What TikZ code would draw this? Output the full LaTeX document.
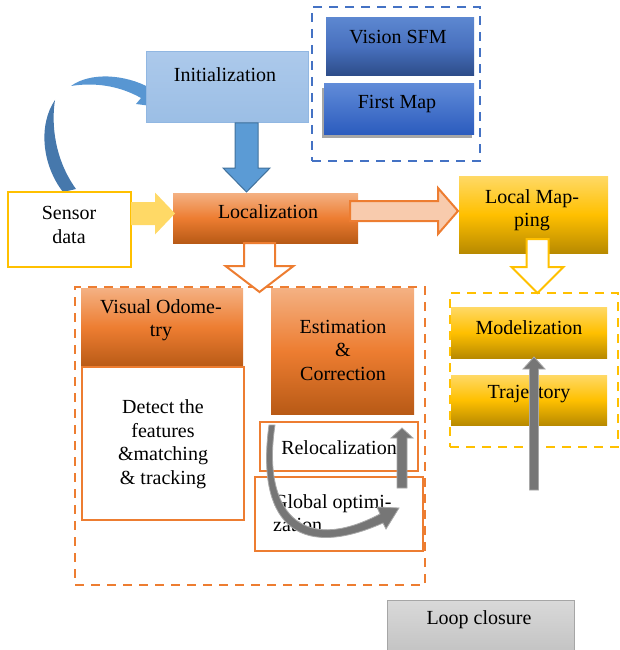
\documentclass[tikz,border=0pt]{standalone}
\usepackage{fontspec}
\setmainfont{Liberation Serif}
\usetikzlibrary{calc,shadows}
\definecolor{initT}{RGB}{172,201,235}
\definecolor{initB}{RGB}{155,190,229}
\definecolor{initD}{RGB}{145,183,226}
\definecolor{sfmT}{RGB}{92,135,208}
\definecolor{sfmM}{RGB}{72,112,190}
\definecolor{sfmB}{RGB}{44,76,136}
\definecolor{fmT}{RGB}{96,139,216}
\definecolor{fmB}{RGB}{44,92,190}
\definecolor{dblue}{RGB}{68,114,196}
\definecolor{ablue}{RGB}{91,155,213}
\definecolor{ablueD}{RGB}{65,113,156}
\definecolor{cblue}{RGB}{88,150,210}
\definecolor{cblueD}{RGB}{70,120,172}
\definecolor{orT}{RGB}{244,177,131}
\definecolor{orM}{RGB}{237,125,49}
\definecolor{orB}{RGB}{184,90,22}
\definecolor{orL}{RGB}{237,125,49}
\definecolor{pink}{RGB}{248,203,173}
\definecolor{goT}{RGB}{255,217,102}
\definecolor{goM}{RGB}{255,192,0}
\definecolor{goB}{RGB}{184,138,0}
\definecolor{yel}{RGB}{255,192,0}
\definecolor{yelA}{RGB}{255,217,102}
\definecolor{grT}{RGB}{217,217,217}
\definecolor{grB}{RGB}{192,192,192}
\definecolor{grD}{RGB}{166,166,166}
\definecolor{grA}{RGB}{118,118,118}
\definecolor{grAD}{RGB}{168,168,168}
\newcommand{\blockarr}[6]{%
  \coordinate (ba-h) at ($(#2)!#5!(#1)$);
  \path[#6] ($(#1)!#3!90:(#2)$) -- ($(ba-h)!#3!90:(#2)$) -- ($(ba-h)!#4!90:(#2)$)
    -- (#2) -- ($(ba-h)!#4!-90:(#2)$) -- ($(ba-h)!#3!-90:(#2)$) -- ($(#1)!#3!-90:(#2)$) -- cycle;}
\tikzset{
  box/.style={inner sep=0pt, outer sep=0pt, anchor=north west},
  txt/.style={font=\fontsize{20}{23.5}\selectfont, align=center, inner sep=0pt, text=black},
  orgrad/.style={top color=orT, bottom color=orB, middle color=orM},
  gograd/.style={top color=goT, bottom color=goB, middle color=goM},
  dashbox/.style={box, draw, line width=2.5pt, dash pattern=on 9pt off 7pt},
  grayarr/.style={fill=grA, draw=grAD, line width=0.8pt},
}
\begin{document}
\begin{tikzpicture}[x=1pt,y=-1pt]
\useasboundingbox (0,0) rectangle (619,650);
\clip (0,0) rectangle (619,650);

% curved blue arrow (sensor data -> initialization)
\path[fill=cblueD] (63,192) .. controls (42,165) and (38,125) .. (55,100)
  .. controls (51,125) and (55,160) .. (76,189) -- cycle;
\path[fill=cblue] (71,86) .. controls (90,72) and (125,74) .. (150,88)
  -- (157,81) -- (159,107) -- (136,104) -- (141,98)
  .. controls (120,86) and (95,82) .. (71,86) -- cycle;

% top boxes
\node[box, minimum width=162pt, minimum height=71pt, top color=initT, bottom color=initB, draw=initD, line width=1pt] (init) at (146,52) {};
\node[txt] (init-t) at (225,75) {Initialization};

\node[dashbox, draw=dblue, minimum width=168pt, minimum height=154pt] (initgrp) at (312,7) {};
\node[box, minimum width=148pt, minimum height=58pt, top color=sfmT, bottom color=sfmB, middle color=sfmM] (sfm) at (326,18) {};
\node[txt] (sfm-t) at (398,37) {Vision SFM};
\node[box, minimum width=150pt, minimum height=50pt, top color=fmT, bottom color=fmB,
  drop shadow={shadow xshift=-2pt, shadow yshift=-4pt, opacity=0.35, fill=black}] (fmap) at (324,84) {};
\node[txt] (fmap-t) at (397,104) {First Map};

% middle row
\node[box, minimum width=123pt, minimum height=75pt, fill=white, draw=yel, line width=2pt] (sensor) at (8,192) {};
\node[txt] (sensor-t) at (69,225) {Sensor\\data};

\node[box, minimum width=185pt, minimum height=50pt, orgrad] (loc) at (173,193) {};
\node[txt] (loc-t) at (268,212) {Localization};

\node[box, minimum width=149pt, minimum height=77pt, gograd] (lmap) at (459,176) {};
\node[txt] (lmap-t) at (532,210) {Local Map-\\ping};

% arrows of the middle row
\coordinate (a1s) at (246.5,123); \coordinate (a1e) at (246.5,192);
\blockarr{a1s}{a1e}{11.5pt}{23.5pt}{24pt}{fill=ablue, draw=ablueD, line width=1pt}
\coordinate (a2s) at (131,213.5); \coordinate (a2e) at (175,213.5);
\blockarr{a2s}{a2e}{11.5pt}{21pt}{20pt}{fill=yelA}
\coordinate (a3s) at (350,211); \coordinate (a3e) at (458,211);
\blockarr{a3s}{a3e}{10pt}{23pt}{20pt}{fill=pink, draw=orL, line width=2pt}

% orange group
\node[dashbox, draw=orL, minimum width=350pt, minimum height=298pt] (orgrp) at (75,287) {};
\node[box, minimum width=162pt, minimum height=79pt, orgrad] (vo) at (81,288) {};
\node[txt] (vo-t) at (161,320) {Visual Odome-\\try};
\node[box, minimum width=162pt, minimum height=153pt, fill=white, draw=orL, line width=2pt] (det) at (82,367) {};
\node[txt] (det-t) at (163,444) {Detect the\\features\\\&matching\\\& tracking};
\node[box, minimum width=143pt, minimum height=126pt, orgrad] (est) at (271,288) {};
\node[txt] (est-t) at (343,350) {Estimation\\\&\\Correction};
\node[box, minimum width=158pt, minimum height=49pt, fill=white, draw=orL, line width=2pt] (reloc) at (260,422) {};
\node[txt] (reloc-t) at (339,448) {Relocalization};
\node[box, minimum width=168pt, minimum height=74pt, fill=white, draw=orL, line width=2pt] (glob) at (255,477) {};
\node[txt, align=left, anchor=west] (glob-t) at (273,513) {Global optimi-\\zation};

\coordinate (a4s) at (259.5,243); \coordinate (a4e) at (259.5,292);
\blockarr{a4s}{a4e}{15.5pt}{34pt}{26pt}{fill=white, draw=orL, line width=2pt}

% yellow group
\node[dashbox, draw=yel, minimum width=168pt, minimum height=154pt] (ygrp) at (450,293) {};
\node[box, minimum width=156pt, minimum height=51pt, gograd] (model) at (451,307) {};
\node[txt] (model-t) at (529,328) {Modelization};
\node[box, minimum width=156pt, minimum height=50pt, gograd] (traj) at (451,375) {};
\node[txt] (traj-t) at (529,394) {Trajectory};

\coordinate (a5s) at (537.5,239); \coordinate (a5e) at (537.5,293);
\blockarr{a5s}{a5e}{11pt}{26pt}{26pt}{fill=white, draw=yel, line width=2pt}

% loop closure
\node[box, minimum width=187pt, minimum height=60pt, top color=grT, bottom color=grB, draw=grD, line width=1pt] (loop) at (387,600) {};
\node[txt] (loop-t) at (479,620) {Loop closure};

% gray arrows
\coordinate (g1s) at (534,490); \coordinate (g1e) at (534,357);
\blockarr{g1s}{g1e}{4.5pt}{11pt}{12pt}{grayarr}
\coordinate (g2s) at (402,488); \coordinate (g2e) at (402,428);
\blockarr{g2s}{g2e}{5pt}{11pt}{10pt}{grayarr}
\path[grayarr] (269,425) .. controls (256,520) and (295,562) .. (383,523)
  -- (386,529) -- (399,508) -- (377,507) -- (380,514)
  .. controls (300,556) and (262,510) .. (275,425) -- cycle;
\end{tikzpicture}
\end{document}
